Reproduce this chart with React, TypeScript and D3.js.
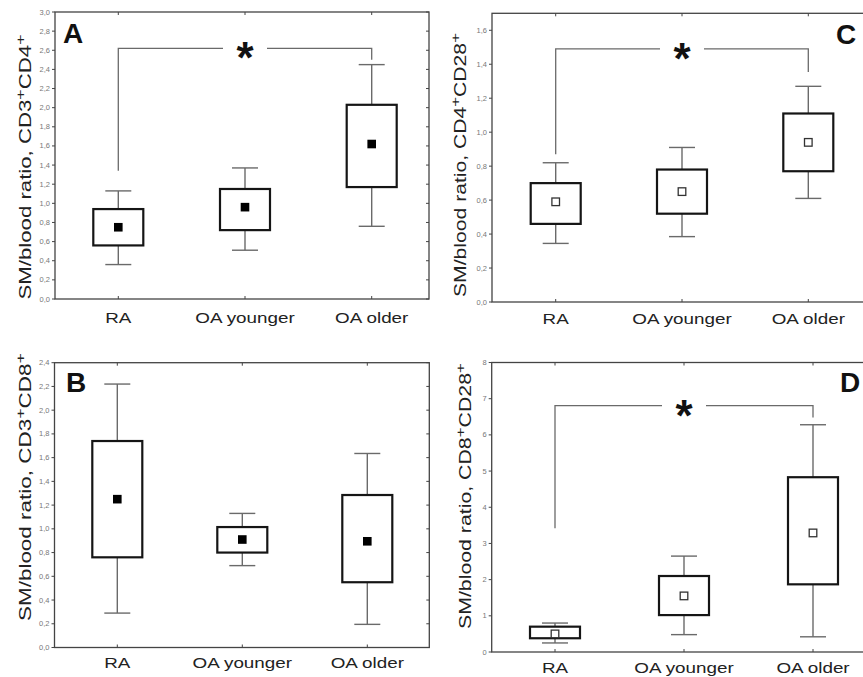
import React from "react";
import * as d3 from "d3";

// ---------- DATA ----------
const categories = ["RA", "OA younger", "OA older"];

// Panel A: SM/blood ratio, CD3+CD4+
const aMean = [0.75, 0.96, 1.62];
const aQ1 = [0.56, 0.72, 1.17];
const aQ3 = [0.94, 1.15, 2.03];
const aMin = [0.36, 0.51, 0.76];
const aMax = [1.13, 1.37, 2.45];
const aBracket = [2.62, 1.34, 2.5]; // top, left end, right end
const aTicks = [0, 0.2, 0.4, 0.6, 0.8, 1.0, 1.2, 1.4, 1.6, 1.8, 2.0, 2.2, 2.4, 2.6, 2.8, 3.0];

// Panel B: SM/blood ratio, CD3+CD8+
const bMean = [1.25, 0.91, 0.895];
const bQ1 = [0.76, 0.8, 0.55];
const bQ3 = [1.74, 1.015, 1.285];
const bMin = [0.29, 0.69, 0.195];
const bMax = [2.22, 1.13, 1.635];
const bTicks = [0, 0.2, 0.4, 0.6, 0.8, 1.0, 1.2, 1.4, 1.6, 1.8, 2.0, 2.2, 2.4];

// Panel C: SM/blood ratio, CD4+CD28+
const cMean = [0.59, 0.65, 0.94];
const cQ1 = [0.46, 0.52, 0.77];
const cQ3 = [0.7, 0.78, 1.11];
const cMin = [0.345, 0.385, 0.61];
const cMax = [0.82, 0.91, 1.27];
const cBracket = [1.49, 0.87, 1.355];
const cTicks = [0, 0.2, 0.4, 0.6, 0.8, 1.0, 1.2, 1.4, 1.6];

// Panel D: SM/blood ratio, CD8+CD28+
const dMean = [0.5, 1.55, 3.29];
const dQ1 = [0.38, 1.02, 1.87];
const dQ3 = [0.7, 2.1, 4.83];
const dMin = [0.25, 0.48, 0.42];
const dMax = [0.8, 2.65, 6.28];
const dBracket = [6.81, 3.42, 6.48];
const dTicks = [0, 1, 2, 3, 4, 5, 6, 7, 8];

const FONT = "'Liberation Sans', Arial, Helvetica, sans-serif";
const commaFmt = (v: number) => d3.format(".1f")(v).replace(".", ",");
const intFmt = (v: number) => d3.format("d")(v);

type PanelCfg = {
  letter: string;
  letterX: number;
  letterY: number;
  labelCell: string;
  labelCell2: string;
  labelX: number;
  labelCY: number;
  labelLen: number;
  x0: number;
  x1: number;
  y0: number;
  y1: number;
  yMax: number;
  ticks: number[];
  fmt: (v: number) => string;
  catStart: number;
  catStep: number;
  catLabelY: number;
  mean: number[];
  q1: number[];
  q3: number[];
  min: number[];
  max: number[];
  bracket: number[] | null;
  hollow: boolean;
};

function Panel({ c }: { c: PanelCfg }) {
  const y = d3.scaleLinear().domain([0, c.yMax]).range([c.y1, c.y0]);
  const x = d3
    .scalePoint<string>()
    .domain(categories)
    .range([c.catStart, c.catStart + 2 * c.catStep]);
  const boxW = 50;
  const capW = 26;
  const frameColor = "#444";
  const whiskerColor = "#6a6a6a";

  let bracketPath = "";
  if (c.bracket) {
    const [top, le, re] = c.bracket;
    const xm = x(categories[1])!;
    bracketPath =
      `M${x(categories[0])},${y(le)}V${y(top)}H${xm - 22}` +
      `M${xm + 22},${y(top)}H${x(categories[2])}V${y(re)}`;
  }

  return (
    <g>
      {/* frame */}
      <rect
        x={c.x0}
        y={c.y0}
        width={c.x1 - c.x0}
        height={c.y1 - c.y0}
        fill="none"
        stroke={frameColor}
        strokeWidth={1.3}
      />
      {/* y ticks */}
      {c.ticks.map((t) => (
        <g key={"t" + t}>
          <line x1={c.x0 - 3} x2={c.x0} y1={y(t)} y2={y(t)} stroke={frameColor} strokeWidth={1} />
          <line x1={c.x1 - 3} x2={c.x1} y1={y(t)} y2={y(t)} stroke={frameColor} strokeWidth={1} />
          <text
            x={c.x0 - 5}
            y={y(t) + 2.5}
            fontSize={7.5}
            fill="#777"
            textAnchor="end"
            fontFamily={FONT}
          >
            {c.fmt(t)}
          </text>
        </g>
      ))}
      {/* category ticks and labels */}
      {categories.map((cat) => (
        <g key={"c" + cat}>
          <line x1={x(cat)} x2={x(cat)} y1={c.y0} y2={c.y0 + 3} stroke={frameColor} strokeWidth={1} />
          <line x1={x(cat)} x2={x(cat)} y1={c.y1 - 3} y2={c.y1} stroke={frameColor} strokeWidth={1} />
          <g transform={`translate(${x(cat)},${c.catLabelY}) scale(1.3,1)`}>
            <text x={0} y={0} fontSize={14.5} fill="#222" textAnchor="middle" fontFamily={FONT}>
              {cat}
            </text>
          </g>
        </g>
      ))}
      {/* bracket */}
      {c.bracket && (
        <g>
          <path d={bracketPath} fill="none" stroke={whiskerColor} strokeWidth={1.3} />
          <text
            x={x(categories[1])}
            y={y(c.bracket[0]) + 25}
            fontSize={44}
            fontWeight="bold"
            textAnchor="middle"
            fill="#111"
            fontFamily={FONT}
          >
            *
          </text>
        </g>
      )}
      {/* boxes */}
      {categories.map((cat, i) => {
        const cx = x(cat)!;
        return (
          <g key={"b" + cat}>
            <line x1={cx} x2={cx} y1={y(c.max[i])} y2={y(c.q3[i])} stroke={whiskerColor} strokeWidth={1.4} />
            <line x1={cx} x2={cx} y1={y(c.q1[i])} y2={y(c.min[i])} stroke={whiskerColor} strokeWidth={1.4} />
            <line x1={cx - capW / 2} x2={cx + capW / 2} y1={y(c.max[i])} y2={y(c.max[i])} stroke={whiskerColor} strokeWidth={1.4} />
            <line x1={cx - capW / 2} x2={cx + capW / 2} y1={y(c.min[i])} y2={y(c.min[i])} stroke={whiskerColor} strokeWidth={1.4} />
            <rect
              x={cx - boxW / 2}
              y={y(c.q3[i])}
              width={boxW}
              height={y(c.q1[i]) - y(c.q3[i])}
              fill="white"
              stroke="#151515"
              strokeWidth={2.2}
            />
            {c.hollow ? (
              <rect
                x={cx - 3.8}
                y={y(c.mean[i]) - 3.8}
                width={7.6}
                height={7.6}
                fill="white"
                stroke="#333"
                strokeWidth={1.3}
              />
            ) : (
              <rect x={cx - 4.3} y={y(c.mean[i]) - 4.3} width={8.6} height={8.6} fill="#000" />
            )}
          </g>
        );
      })}
      {/* panel letter */}
      <text x={c.letterX} y={c.letterY} fontSize={28} fontWeight="bold" fill="#111" fontFamily={FONT}>
        {c.letter}
      </text>
      {/* y label */}
      <text
        transform={`translate(${c.labelX},${c.labelCY}) rotate(-90)`}
        textAnchor="middle"
        fontSize={16.3}
        fill="#222"
        fontFamily={FONT}
        textLength={c.labelLen}
        lengthAdjust="spacingAndGlyphs"
      >
        {"SM/blood ratio,  " + c.labelCell}
        <tspan dy={-6} fontSize={13}>+</tspan>
        <tspan dy={6}>{c.labelCell2}</tspan>
        <tspan dy={-6} fontSize={13}>+</tspan>
      </text>
    </g>
  );
}

const panels: PanelCfg[] = [
  {
    letter: "A", letterX: 63, letterY: 43,
    labelCell: "CD3", labelCell2: "CD4", labelX: 31, labelCY: 167, labelLen: 265,
    x0: 55, x1: 429, y0: 12, y1: 299, yMax: 3.0, ticks: aTicks, fmt: commaFmt,
    catStart: 118.3, catStep: 126.7, catLabelY: 323,
    mean: aMean, q1: aQ1, q3: aQ3, min: aMin, max: aMax, bracket: aBracket, hollow: false,
  },
  {
    letter: "B", letterX: 66, letterY: 392,
    labelCell: "CD3", labelCell2: "CD8", labelX: 31, labelCY: 487, labelLen: 268,
    x0: 54.5, x1: 429.3, y0: 362.7, y1: 647.5, yMax: 2.4, ticks: bTicks, fmt: commaFmt,
    catStart: 117.3, catStep: 125, catLabelY: 668,
    mean: bMean, q1: bQ1, q3: bQ3, min: bMin, max: bMax, bracket: null, hollow: false,
  },
  {
    letter: "C", letterX: 836, letterY: 44,
    labelCell: "CD4", labelCell2: "CD28", labelX: 466, labelCY: 165, labelLen: 264,
    x0: 492, x1: 872, y0: 13.3, y1: 302, yMax: 1.7, ticks: cTicks, fmt: commaFmt,
    catStart: 555.7, catStep: 126.3, catLabelY: 324,
    mean: cMean, q1: cQ1, q3: cQ3, min: cMin, max: cMax, bracket: cBracket, hollow: true,
  },
  {
    letter: "D", letterX: 840, letterY: 392,
    labelCell: "CD8", labelCell2: "CD28", labelX: 471, labelCY: 496, labelLen: 266,
    x0: 491.7, x1: 872, y0: 362.5, y1: 652, yMax: 8, ticks: dTicks, fmt: intFmt,
    catStart: 555, catStep: 129, catLabelY: 673,
    mean: dMean, q1: dQ1, q3: dQ3, min: dMin, max: dMax, bracket: dBracket, hollow: true,
  },
];

export default function App() {
  return (
    <svg
      width={863}
      height={677}
      viewBox="0 0 863 677"
      style={{ position: "absolute", left: 0, top: 0, background: "white" }}
    >
      <rect x={0} y={0} width={863} height={677} fill="white" />
      {panels.map((p) => (
        <Panel key={p.letter} c={p} />
      ))}
    </svg>
  );
}
